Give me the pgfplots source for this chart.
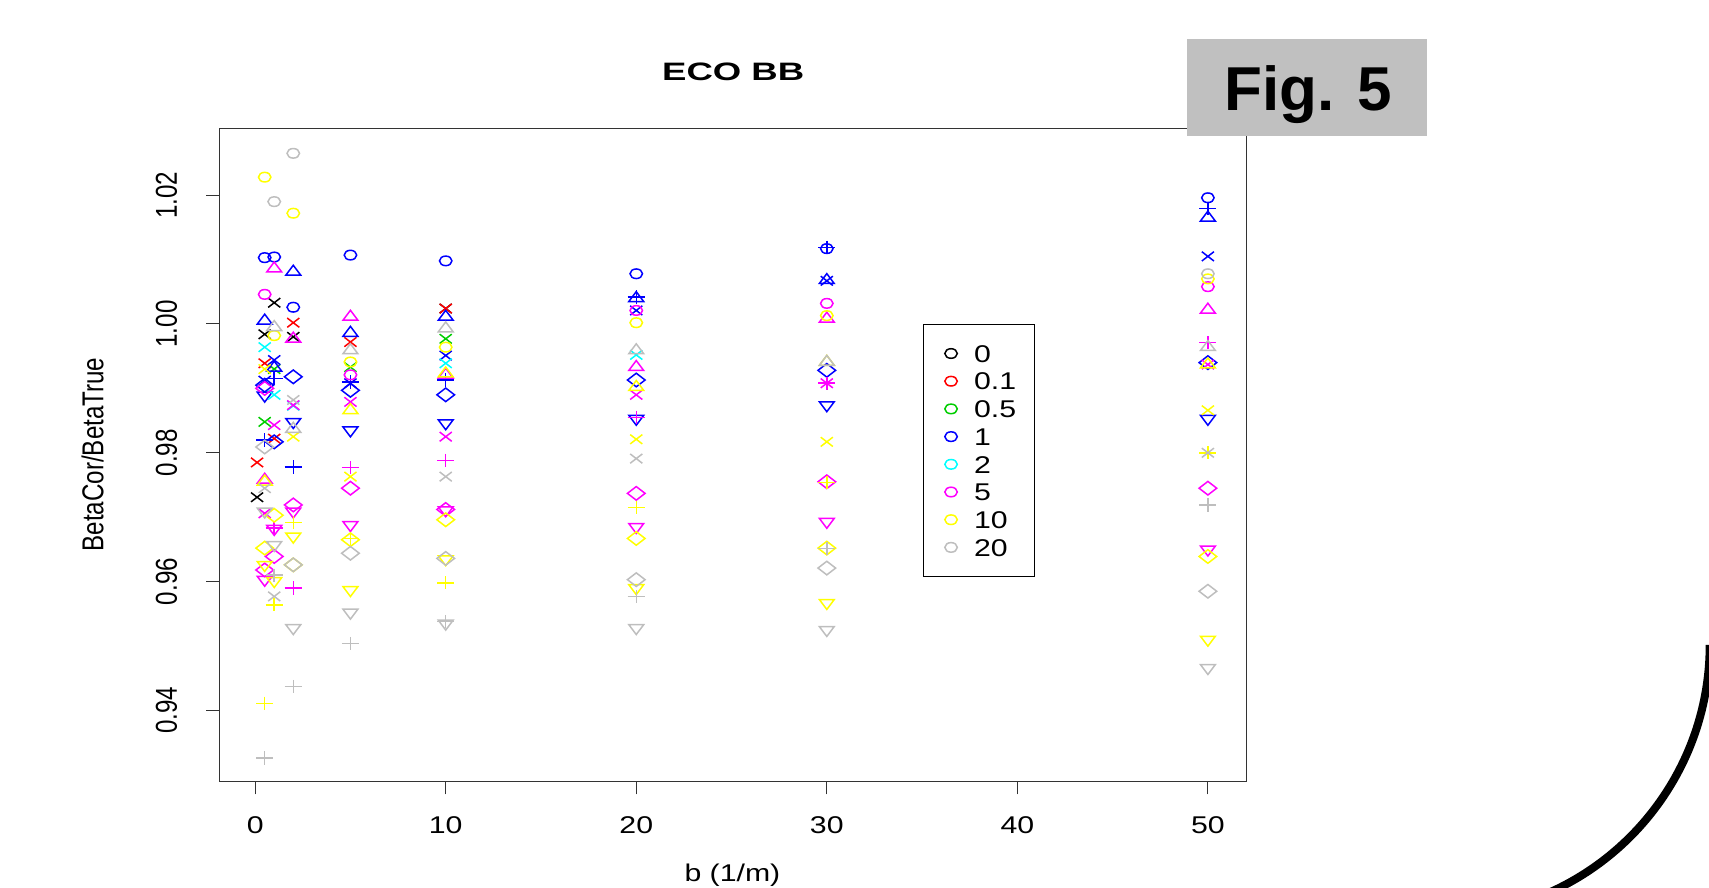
\documentclass[border=0pt]{standalone}
\usepackage{pgfplots}
\pgfplotsset{compat=1.18}
\usepackage{pgfplotstable}
\usepackage{fontspec}
\setmainfont{Liberation Sans}
\newfontfamily\hfont{Liberation Sans}[FakeStretch=1.25]
\newfontfamily\vfont{Liberation Sans}[FakeStretch=0.8]
\newfontfamily\tfont{Liberation Sans}[FakeStretch=1.45]
\definecolor{rblack}{RGB}{0,0,0}
\definecolor{rred}{RGB}{255,0,0}
\definecolor{rgreen}{RGB}{0,205,0}
\definecolor{rblue}{RGB}{0,0,255}
\definecolor{rcyan}{RGB}{0,255,255}
\definecolor{rmagenta}{RGB}{255,0,255}
\definecolor{ryellow}{RGB}{255,255,0}
\definecolor{rgray}{RGB}{190,190,190}
\definecolor{figgray}{RGB}{192,192,192}
\pgfplotsset{
 shpo/.style={mark=o, mark size=2.4pt, mark options={xscale=1.3, line width=0.75pt, draw=#1, fill=none}},
 shpt/.style={mark=triangle, mark size=3.3pt, mark options={xscale=1.3, line width=0.75pt, draw=#1, fill=none}},
 shpd/.style={mark=triangle, mark size=3.3pt, mark options={xscale=1.3, rotate=180, line width=0.75pt, draw=#1, fill=none}},
 shpp/.style={mark=+, mark size=3.3pt, mark options={xscale=1.3, line width=0.75pt, draw=#1}},
 shpx/.style={mark=x, mark size=3.3pt, mark options={xscale=1.3, line width=0.75pt, draw=#1}},
 shps/.style={mark=square, mark size=2.4pt, mark options={xscale=1.3, rotate=45, line width=0.75pt, draw=#1, fill=none}},
 li/.style={only marks, mark=o, mark size=2.4pt, mark options={xscale=1.3, line width=0.75pt, draw=#1, fill=none}}
}
% columns: b = x value; o circle, t triangle, d down-triangle, p plus, x cross, s diamond
\newcommand\mk[3]{\addplot[forget plot, only marks, color=#3, shp#2=#3] table[x=b,y=#2] {#1};}
\pgfplotstableread{
b x
1 1.0033
0.5 0.9984
2 0.9980
0.1 0.9731
10 1.0024
}\tblack
\pgfplotstableread{
b x
2 1.0002
0.5 0.9939
1 0.9822
0.1 0.9785
5 0.9972
10 1.0024
}\tred
\pgfplotstableread{
b x
0.5 0.9848
1 0.9930
5 0.9933
10 0.9977
}\tgreen
\pgfplotstableread{
b x
0.5 0.9964
1 0.9890
2 0.9873
10 0.9939
20 0.9952
}\tcyan
\pgfplotstableread{
b o t d p x s
0.5 1.0103 1.0005 0.9889 0.9820 0.9912 0.9905
1 1.0104 0.9932 nan 0.9915 0.9944 0.9817
2 1.0026 1.0081 0.9848 0.9778 nan 0.9918
5 1.0107 0.9986 0.9835 0.9910 0.9908 0.9897
10 1.0098 1.0011 0.9846 0.9913 0.9951 0.9890
20 1.0078 1.0040 0.9853 1.0042 1.0021 0.9913
30 1.0117 1.0068 0.9874 1.0119 1.0067 0.9928
50 1.0196 1.0165 0.9853 1.0179 1.0105 0.9940
}\tblue
\pgfplotstableread{
b o t d p x s
0.5 1.0046 0.9758 0.9603 nan 0.9706 0.9900
0.5 nan nan nan nan nan 0.9618
1 nan 1.0086 0.9682 0.9683 0.9843 0.9639
2 nan 0.9977 0.9709 0.9590 0.9874 0.9719
5 0.9921 1.0011 0.9688 0.9777 0.9879 0.9745
10 nan 0.9921 0.9711 0.9788 0.9825 0.9712
20 1.0021 0.9933 0.9685 0.9855 0.9890 0.9737
30 1.0032 1.0008 0.9693 0.9908 0.9908 0.9755
50 1.0058 1.0022 0.9650 0.9971 0.9937 0.9745
}\tmagenta
\pgfplotstableread{
b o t d p x s
0.5 1.0228 0.9755 0.9626 0.9411 0.9930 0.9652
1 0.9982 nan 0.9601 0.9564 nan 0.9703
2 1.0172 nan 0.9670 0.9692 0.9825 0.9626
5 0.9941 0.9866 0.9587 0.9667 0.9763 0.9665
10 0.9964 0.9923 0.9635 0.9598 nan 0.9696
20 1.0002 0.9902 0.9590 0.9715 0.9821 0.9667
30 1.0013 0.9941 0.9567 0.9754 0.9817 0.9652
50 1.0070 0.9937 0.9510 0.9800 0.9866 0.9639
}\tyellow
\pgfplotstableread{
b o t d p x s
0.5 nan nan 0.9709 0.9326 0.9745 0.9809
1 1.0190 0.9995 0.9657 0.9610 0.9577 nan
2 1.0265 0.9837 0.9528 0.9437 0.9882 0.9626
5 nan 0.9959 0.9552 0.9504 nan 0.9644
10 nan 0.9993 0.9535 0.9538 0.9763 0.9636
20 nan 0.9959 0.9528 0.9577 0.9791 0.9603
30 nan 0.9941 0.9525 0.9651 nan 0.9621
50 1.0078 0.9964 0.9466 0.9719 0.9800 0.9585
}\tgray
\begin{document}
\begin{tikzpicture}
\useasboundingbox (0,0) rectangle (854.5pt,444pt);
\begin{axis}[
  at={(109.6pt,53.25pt)}, anchor=south west,
  scale only axis, width=513.4pt, height=326.45pt,
  xmin=-1.888, xmax=52.0, ymin=0.92896, ymax=1.03034,
  axis line style={black!80, line width=0.5pt},
  xtick={0,10,20,30,40,50},
  ytick={0.94,0.96,0.98,1.00,1.02},
  scaled y ticks=false,
  yticklabel={\pgfmathprintnumber[fixed,fixed zerofill,precision=2]{\tick}},
  tick pos=left, tick align=outside, major tick length=6.5pt,
  tick style={black!80, line width=0.5pt},
  /pgf/number format/assume math mode=true,
  unbounded coords=discard,
  xticklabel style={font=\hfont\fontsize{12.1}{14}\selectfont, anchor=base, yshift=-19.4pt},
  yticklabel style={font=\vfont\fontsize{15.1}{16}\selectfont, xshift=-14.7pt, rotate=90, anchor=base},
  legend style={at={(rel axis cs:0.6854,0.7007)}, anchor=north west, draw=black, line width=0.6pt,
    fill=white, font=\hfont\fontsize{12.1}{14}\selectfont, inner xsep=7pt, inner ysep=9.6pt,
    row sep=4.15pt, nodes={inner ysep=0.5pt, text height=8.7pt, text depth=0pt}},
  legend cell align=left,
  legend image code/.code={\path[draw=none,fill=none] (0pt,0pt) -- (16.3pt,0pt); \draw[#1, only marks] plot coordinates {(6.75pt,0pt)};},
]
\mk{\tblack}{x}{rblack}
\mk{\tred}{x}{rred}
\mk{\tgreen}{x}{rgreen}
\mk{\tblue}{o}{rblue}
\mk{\tblue}{t}{rblue}
\mk{\tblue}{d}{rblue}
\mk{\tblue}{p}{rblue}
\mk{\tblue}{x}{rblue}
\mk{\tblue}{s}{rblue}
\mk{\tcyan}{x}{rcyan}
\mk{\tmagenta}{o}{rmagenta}
\mk{\tmagenta}{t}{rmagenta}
\mk{\tmagenta}{d}{rmagenta}
\mk{\tmagenta}{p}{rmagenta}
\mk{\tmagenta}{x}{rmagenta}
\mk{\tmagenta}{s}{rmagenta}
\mk{\tyellow}{o}{ryellow}
\mk{\tyellow}{t}{ryellow}
\mk{\tyellow}{d}{ryellow}
\mk{\tyellow}{p}{ryellow}
\mk{\tyellow}{x}{ryellow}
\mk{\tyellow}{s}{ryellow}
\mk{\tgray}{o}{rgray}
\mk{\tgray}{t}{rgray}
\mk{\tgray}{d}{rgray}
\mk{\tgray}{p}{rgray}
\mk{\tgray}{x}{rgray}
\mk{\tgray}{s}{rgray}
\addlegendimage{li=rblack}\addlegendentry{0}
\addlegendimage{li=rred}\addlegendentry{0.1}
\addlegendimage{li=rgreen}\addlegendentry{0.5}
\addlegendimage{li=rblue}\addlegendentry{1}
\addlegendimage{li=rcyan}\addlegendentry{2}
\addlegendimage{li=rmagenta}\addlegendentry{5}
\addlegendimage{li=ryellow}\addlegendentry{10}
\addlegendimage{li=rgray}\addlegendentry{20}
\end{axis}
\node[font=\tfont\bfseries\fontsize{12.6}{14}\selectfont, anchor=center] at (366.6pt,408.15pt) {ECO BB};
\node[font=\hfont\fontsize{12.1}{14}\selectfont, anchor=base] at (366.2pt,3.2pt) {b (1/m)};
\node[font=\vfont\fontsize{15.1}{16}\selectfont, rotate=90, anchor=base] at (51.65pt,216.75pt) {BetaCor/BetaTrue};
\fill[figgray] (593.7pt,376pt) rectangle (713.3pt,424.35pt);
\node[font=\bfseries\fontsize{31}{36}\selectfont, anchor=base] at (654.2pt,388.6pt) {Fig. 5};
\draw[line width=4pt] ([shift={(0:135.6pt)}]719.25pt,121.5pt) arc[start angle=0, end angle=-80, radius=135.6pt];
\end{tikzpicture}
\end{document}
